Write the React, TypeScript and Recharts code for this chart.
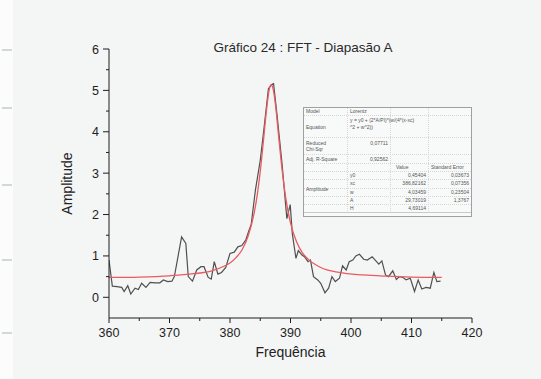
import React from "react";
import { LineChart, Line, XAxis, YAxis } from "recharts";

// FFT amplitude
const freqValues = [
  360, 360.55, 361.3, 362.1, 362.5, 363.1, 363.6, 364.3, 364.85, 365.4, 366.1, 366.8,
  367.6, 368.4, 369.0, 369.7, 370.4, 370.8, 371.3, 372.0, 372.7, 373.1, 373.8, 374.5,
  375.2, 375.7, 376.4, 376.9, 377.4, 378.0, 378.6, 379.3, 380.0, 380.7, 381.3, 381.95,
  382.6, 383.05, 383.5, 384.2, 385.0, 385.65, 386.35, 386.9, 387.2, 387.75, 388.6, 389.4,
  389.95, 390.3, 390.9, 391.3, 391.9, 392.3, 392.9, 393.3, 393.8, 394.5, 395.0, 395.7,
  396.3, 396.85, 397.4, 398.1, 398.6, 399.2, 399.7, 400.3, 400.8, 401.4, 402.1, 402.7,
  403.5, 404.0, 404.6, 405.1, 405.7, 406.2, 406.9, 407.5, 408.0, 408.6, 409.1, 409.8,
  410.5, 411.1, 411.7, 412.4, 413.1, 413.7, 414.2, 414.8,
];
const ampValues = [
  0.9, 0.27, 0.26, 0.24, 0.14, 0.28, 0.08, 0.22, 0.19, 0.34, 0.24, 0.36,
  0.35, 0.35, 0.42, 0.38, 0.39, 0.5, 0.9, 1.46, 1.3, 0.5, 0.39, 0.66,
  0.74, 0.74, 0.48, 0.44, 0.86, 0.56, 0.6, 0.72, 1.06, 1.09, 1.22, 1.25,
  1.38, 1.58, 1.76, 2.59, 3.31, 4.12, 5.04, 5.14, 5.16, 4.44, 3.23, 1.9,
  2.24, 1.54, 0.94, 1.13, 1.02, 0.98, 0.86, 0.9, 0.5, 0.42, 0.34, 0.11,
  0.22, 0.5, 0.38, 0.46, 0.76, 0.66, 0.86, 0.9, 1.0, 1.04, 0.92, 0.9,
  0.98, 0.9, 0.8, 0.88, 0.54, 0.5, 0.64, 0.43, 0.5, 0.48, 0.42, 0.46,
  0.14, 0.42, 0.2, 0.24, 0.22, 0.6, 0.38, 0.39,
];

// red Lorentz fit curve
const fitFreq = [
  360, 365, 370, 374, 377, 379, 380, 381, 382, 383, 384, 384.5, 385, 385.5, 386, 386.5,
  386.8, 387.2, 387.5, 388, 388.5, 389, 389.5, 390, 391, 392, 393, 395, 398, 402, 406,
  410, 415,
];
const fitAmp = [
  0.48, 0.49, 0.52, 0.57, 0.64, 0.75, 0.83, 0.96, 1.15, 1.48, 2.04, 2.47, 3.04, 3.74, 4.48,
  5.03, 5.14, 4.98, 4.67, 3.95, 3.22, 2.62, 2.15, 1.8, 1.34, 1.07, 0.91, 0.72, 0.6, 0.54,
  0.51, 0.49, 0.48,
];

const xTicks = [360, 365, 370, 375, 380, 385, 390, 395, 400, 405, 410, 415, 420];
const yTicks = [0, 0.5, 1, 1.5, 2, 2.5, 3, 3.5, 4, 4.5, 5, 5.5, 6];

// fit report table
const paramNames = ["y0", "xc", "w", "A", "H"];
const paramValues = ["0,45404", "386,82162", "4,03459", "29,73019", "4,69114"];
const paramErrors = ["0,03673", "0,07356", "0,23504", "1,3767", ""];
const chiSqr = "0,07711";
const adjRSquare = "0,92562";

const FONT = "'Liberation Sans', Arial, sans-serif";
const AXIS = "#1e1e1e";

const signal = freqValues.map((f, i) => ({ x: f, y: ampValues[i] }));
const fit = fitFreq.map((f, i) => ({ x: f, y: fitAmp[i] }));

function XTick(props: any) {
  const { x, y, payload } = props;
  const v = payload.value as number;
  const major = v % 10 === 0;
  return (
    <g>
      <line x1={x} x2={x} y1={y} y2={y + (major ? 5 : 3)} stroke={AXIS} strokeWidth={1} />
      {major && (
        <text x={x} y={y + 19} textAnchor="middle" fontSize={12.5} fill={AXIS} fontFamily={FONT}>
          {v}
        </text>
      )}
    </g>
  );
}

function YTick(props: any) {
  const { x, y, payload } = props;
  const v = payload.value as number;
  const major = Number.isInteger(v);
  return (
    <g>
      <line x1={x - (major ? 6 : 3)} x2={x} y1={y} y2={y} stroke={AXIS} strokeWidth={1} />
      {major && (
        <text x={x - 10} y={y + 4.5} textAnchor="end" fontSize={12.5} fill={AXIS} fontFamily={FONT}>
          {v}
        </text>
      )}
    </g>
  );
}

function FitTable() {
  const rowLines = [8, 30, 47, 56, 64, 72, 81, 89, 97];
  const colLines = [44, 87, 125];
  const rowMid = [68, 76.5, 85, 93, 101];
  const t = { fontSize: 5, fill: "#555", fontFamily: FONT } as const;
  return (
    <svg
      width={170}
      height={111}
      style={{ position: "absolute", left: 303, top: 107 }}
    >
      <rect x={0.5} y={0.5} width={168} height={109} fill="#f8f9f9" stroke="#a0a0a0" />
      {rowLines.map((ry) => (
        <line key={ry} x1={1} x2={168} y1={ry + 0.5} y2={ry + 0.5} stroke="#d6d6d6" strokeDasharray="1 1" />
      ))}
      {colLines.map((cx) => (
        <line key={cx} x1={cx + 0.5} x2={cx + 0.5} y1={1} y2={105} stroke="#d6d6d6" strokeDasharray="1 1" />
      ))}
      <line x1={1} x2={168} y1={105.5} y2={105.5} stroke="#c8c8c8" />
      <text x={3} y={6} {...t}>Model</text>
      <text x={47} y={6} {...t}>Lorentz</text>
      <text x={3} y={22} {...t}>Equation</text>
      <text x={47} y={15} {...t}>y = y0 + (2*A/PI)*(w/(4*(x-xc)</text>
      <text x={47} y={21.5} {...t}>^2 + w^2))</text>
      <text x={3} y={37.5} {...t}>Reduced</text>
      <text x={3} y={44} {...t}>Chi-Sqr</text>
      <text x={85} y={38} textAnchor="end" {...t}>{chiSqr}</text>
      <text x={3} y={53.5} {...t}>Adj. R-Square</text>
      <text x={85} y={53.5} textAnchor="end" {...t}>{adjRSquare}</text>
      <text x={93} y={62} {...t}>Value</text>
      <text x={128} y={62} {...t}>Standard Error</text>
      <text x={3} y={84} {...t}>Amplitude</text>
      {paramNames.map((p, i) => (
        <g key={p}>
          <text x={47} y={rowMid[i] + 1.8} {...t}>{p}</text>
          <text x={123} y={rowMid[i] + 1.8} textAnchor="end" {...t}>{paramValues[i]}</text>
          <text x={166} y={rowMid[i] + 1.8} textAnchor="end" {...t}>{paramErrors[i]}</text>
        </g>
      ))}
    </svg>
  );
}

const stripMarks = [50, 108, 185, 260, 333];

export default function App() {
  return (
    <div
      style={{
        position: "absolute",
        left: 0,
        top: 0,
        width: 541,
        height: 379,
        background: "#f4f5f5",
        fontFamily: FONT,
        overflow: "hidden",
      }}
    >
      <div style={{ position: "absolute", left: 0, top: 0, width: 13, height: 379, background: "#fcfcfc" }}>
        {stripMarks.map((m) => (
          <div
            key={m}
            style={{ position: "absolute", left: 2, top: m - 1, width: 10, height: 1.5, background: "#d3d7db" }}
          />
        ))}
      </div>
      <div
        style={{
          position: "absolute",
          left: 0,
          width: 606,
          top: 40,
          textAlign: "center",
          fontSize: 13.5,
          color: "#2a2a2a",
          lineHeight: "16px",
        }}
      >
        Gráfico 24 : FFT - Diapasão A
      </div>
      <LineChart
        width={541}
        height={379}
        margin={{ top: 49, right: 69, bottom: 1, left: 49 }}
        style={{ position: "absolute", left: 0, top: 0 }}
      >
        <XAxis
          dataKey="x"
          type="number"
          domain={[360, 420]}
          ticks={xTicks}
          interval={0}
          allowDataOverflow
          height={60}
          tickSize={0}
          tickMargin={0}
          tickLine={false}
          tick={<XTick />}
          axisLine={{ stroke: AXIS, strokeWidth: 1 }}
          label={{
            value: "Frequência",
            position: "insideBottom",
            offset: 21,
            style: { fontSize: 14, fill: "#222", fontFamily: FONT },
          }}
        />
        <YAxis
          dataKey="y"
          type="number"
          domain={[-0.5, 6]}
          ticks={yTicks}
          interval={0}
          allowDataOverflow
          width={60}
          tickSize={0}
          tickMargin={0}
          tickLine={false}
          tick={<YTick />}
          axisLine={{ stroke: AXIS, strokeWidth: 1 }}
          label={{
            value: "Amplitude",
            angle: -90,
            position: "insideLeft",
            offset: 18,
            style: { fontSize: 14, fill: "#222", fontFamily: FONT, textAnchor: "middle" },
          }}
        />
        <Line
          data={signal}
          dataKey="y"
          type="linear"
          stroke="#505050"
          strokeWidth={1.2}
          dot={false}
          isAnimationActive={false}
        />
        <Line
          data={fit}
          dataKey="y"
          type="monotone"
          stroke="#eb5a60"
          strokeWidth={1.3}
          dot={false}
          isAnimationActive={false}
        />
      </LineChart>
      <FitTable />
    </div>
  );
}
